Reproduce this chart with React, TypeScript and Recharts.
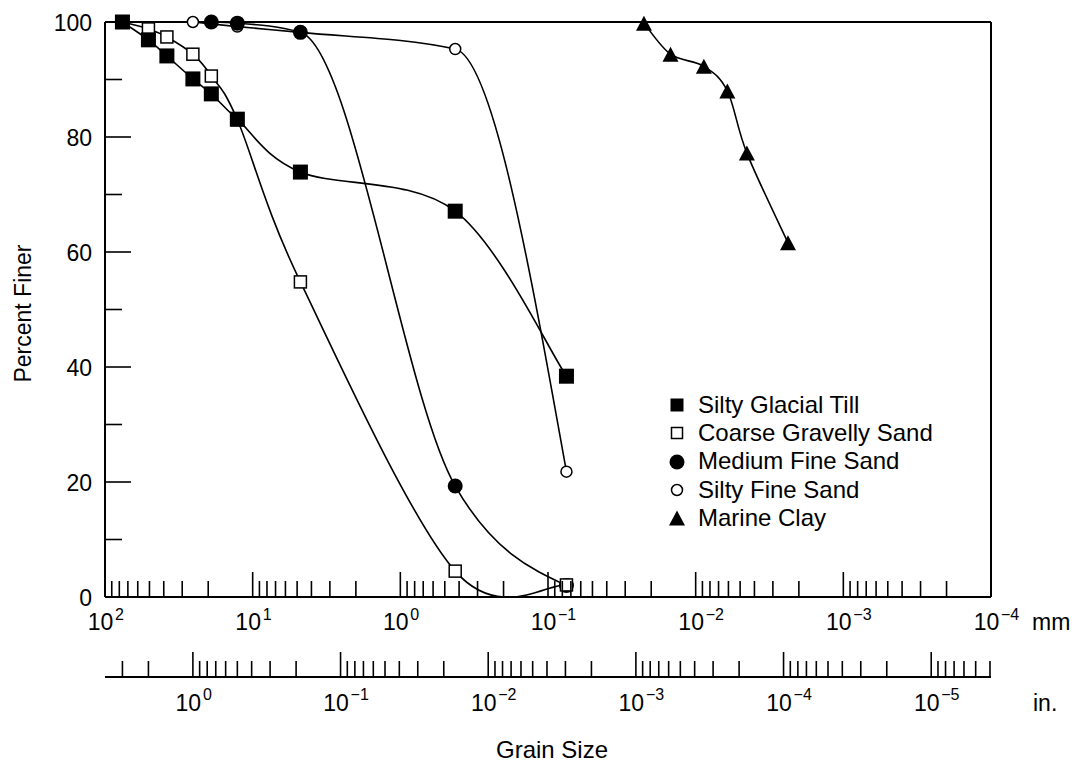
import React from "react";
import { LineChart, Line, XAxis, YAxis, ReferenceLine, Legend, Label } from "recharts";

const FONT = '"Liberation Sans", Arial, Helvetica, sans-serif';

// sieve openings in mm (3 in ... #200)
const SIEVE_MM = [76.2, 50.8, 38.1, 25.4, 19.05, 12.7, 4.75, 0.425, 0.075];
const GLACIAL_TILL_PCT = [100, 96.9, 94.1, 90.1, 87.5, 83.1, 73.9, 67.1, 38.4];
const GRAVELLY_SAND_PCT = [100, 98.8, 97.4, 94.4, 90.6, 83.0, 54.8, 4.5, 2.1];
const MEDIUM_SAND_MM = [19.05, 12.7, 4.75, 0.425, 0.075];
const MEDIUM_SAND_PCT = [100, 99.8, 98.2, 19.3, 2.0];
const SILTY_SAND_MM = [25.4, 12.7, 4.75, 0.425, 0.075];
const SILTY_SAND_PCT = [100, 99.2, 98.2, 95.3, 21.8];
// hydrometer readings
const CLAY_MM = [0.0224, 0.0148, 0.0088, 0.0061, 0.0045, 0.00237];
const CLAY_PCT = [99.8, 94.4, 92.3, 88.0, 77.2, 61.6];

const MM_DOMAIN = [1e-4, 1e2];
const MM_PER_IN = 25.4;
const MM_DECADES = [-4, -3, -2, -1, 0, 1, 2];
const IN_DECADES = [-6, -5, -4, -3, -2, -1, 0];
const MINOR_STEPS = [2, 3, 4, 5, 6, 7, 8, 9];
const Y_TICKS = [0, 10, 20, 30, 40, 50, 60, 70, 80, 90, 100];

type Kind = "fsq" | "osq" | "fci" | "oci" | "tri";

// uniform Catmull-Rom curve, passes through every point
function catmullRom(context: any) {
  let pts: number[][] = [];
  return {
    areaStart() {},
    areaEnd() {},
    lineStart() {
      pts = [];
    },
    point(x: number, y: number) {
      pts.push([+x, +y]);
    },
    lineEnd() {
      const n = pts.length;
      if (!n) return;
      context.moveTo(pts[0][0], pts[0][1]);
      if (n === 2) {
        context.lineTo(pts[1][0], pts[1][1]);
        return;
      }
      for (let i = 0; i < n - 1; i++) {
        const p0 = pts[Math.max(0, i - 1)];
        const p1 = pts[i];
        const p2 = pts[i + 1];
        const p3 = pts[Math.min(n - 1, i + 2)];
        context.bezierCurveTo(
          p1[0] + (p2[0] - p0[0]) / 6,
          p1[1] + (p2[1] - p0[1]) / 6,
          p2[0] - (p3[0] - p1[0]) / 6,
          p2[1] - (p3[1] - p1[1]) / 6,
          p2[0],
          p2[1]
        );
      }
    },
  };
}

const SERIES: { name: string; mm: number[]; pct: number[]; kind: Kind; curve: any }[] = [
  { name: "Silty Glacial Till", mm: SIEVE_MM, pct: GLACIAL_TILL_PCT, kind: "fsq", curve: catmullRom },
  { name: "Coarse Gravelly Sand", mm: SIEVE_MM, pct: GRAVELLY_SAND_PCT, kind: "osq", curve: catmullRom },
  { name: "Medium Fine Sand", mm: MEDIUM_SAND_MM, pct: MEDIUM_SAND_PCT, kind: "fci", curve: "monotone" },
  { name: "Silty Fine Sand", mm: SILTY_SAND_MM, pct: SILTY_SAND_PCT, kind: "oci", curve: "monotone" },
  { name: "Marine Clay", mm: CLAY_MM, pct: CLAY_PCT, kind: "tri", curve: catmullRom },
];
// drawing order so filled markers sit over the hollow ones
const DRAW_ORDER = [3, 2, 1, 0, 4];

const rowsOf = (mm: number[], pct: number[]) => mm.map((v, i) => ({ mm: v, pct: pct[i] }));
const CHART_DATA = rowsOf(SIEVE_MM, GLACIAL_TILL_PCT);

function logTicks(decades: number[], lo: number, hi: number) {
  const out: number[] = [];
  decades.forEach((d) => {
    const base = Math.pow(10, d);
    if (base >= lo && base <= hi) out.push(base);
    MINOR_STEPS.forEach((m) => {
      const v = m * base;
      if (v >= lo * 0.9999 && v <= hi * 1.0001) out.push(v);
    });
  });
  return out;
}

const IN_DOMAIN = [MM_DOMAIN[0] / MM_PER_IN, MM_DOMAIN[1] / MM_PER_IN];
const MM_TICKS = logTicks(MM_DECADES, MM_DOMAIN[0], MM_DOMAIN[1]);
const IN_TICKS = logTicks(IN_DECADES, IN_DOMAIN[0], IN_DOMAIN[1]);

function Marker({ cx, cy, kind, small }: { cx: number; cy: number; kind: Kind; small?: boolean }) {
  if (kind === "fsq") {
    const s = small ? 13 : 15;
    return <rect x={cx - s / 2} y={cy - s / 2} width={s} height={s} fill="#000" />;
  }
  if (kind === "osq") {
    const s = small ? 11 : 12;
    return <rect x={cx - s / 2} y={cy - s / 2} width={s} height={s} fill="#fff" stroke="#000" strokeWidth={1.5} />;
  }
  if (kind === "fci") return <circle cx={cx} cy={cy} r={7.5} fill="#000" />;
  if (kind === "oci") return <circle cx={cx} cy={cy} r={5.5} fill="#fff" stroke="#000" strokeWidth={1.5} />;
  return (
    <polygon
      points={`${cx},${cy - 7.5} ${cx + 8},${cy + 7.5} ${cx - 8},${cy + 7.5}`}
      fill="#000"
    />
  );
}

function isDecade(v: number) {
  const l = Math.log10(v);
  return Math.abs(l - Math.round(l)) < 1e-6;
}

function LogTick(props: any) {
  const { x, y, payload, gap } = props;
  const v = payload.value;
  const major = isDecade(v);
  const e = Math.round(Math.log10(v));
  return (
    <g>
      <line x1={x} x2={x} y1={y} y2={y - (major ? 25 : 16)} stroke="#000" strokeWidth={1.6} />
      {major && (
        <>
          <text x={x - 4.5} y={y + gap} textAnchor="middle" fontSize={23} fontFamily={FONT} fill="#000">
            10
          </text>
          <text x={x + 10} y={y + gap - 10.5} textAnchor="start" fontSize={16} fontFamily={FONT} fill="#000">
            {e < 0 ? `\u2212${-e}` : `${e}`}
          </text>
        </>
      )}
    </g>
  );
}

function LeftTick(props: any) {
  const { x, y, payload } = props;
  const major = payload.value % 20 === 0;
  return (
    <g>
      <line x1={x} x2={x + (major ? 26 : 17)} y1={y} y2={y} stroke="#000" strokeWidth={1.6} />
      {major && (
        <text x={x - 13} y={y + 8.5} textAnchor="end" fontSize={23} fontFamily={FONT} fill="#000">
          {payload.value}
        </text>
      )}
    </g>
  );
}

function RightTick(props: any) {
  const { x, y, payload } = props;
  const major = payload.value % 20 === 0;
  return <line x1={x} x2={x - (major ? 26 : 17)} y1={y} y2={y} stroke="#000" strokeWidth={1.6} />;
}

function LegendBox() {
  return (
    <div style={{ fontFamily: FONT, fontSize: 24, color: "#000" }}>
      {SERIES.map((s) => (
        <div key={s.name} style={{ display: "flex", alignItems: "center", height: 28.3, lineHeight: "28.3px" }}>
          <svg width={18} height={18} style={{ marginRight: 12, flex: "none" }}>
            <Marker cx={9} cy={9} kind={s.kind} small />
          </svg>
          <span style={{ whiteSpace: "nowrap" }}>{s.name}</span>
        </div>
      ))}
    </div>
  );
}

export default function App() {
  return (
    <div style={{ width: 1068, height: 755, fontFamily: FONT }}>
      <LineChart width={1068} height={755} data={CHART_DATA} margin={{ top: 14, right: 75, bottom: 0, left: 0 }}>
        <XAxis
          xAxisId={0}
          dataKey="mm"
          type="number"
          scale="log"
          domain={MM_DOMAIN}
          allowDataOverflow
          reversed
          ticks={MM_TICKS}
          interval={0}
          height={80}
          tickSize={0}
          tickMargin={0}
          tickLine={false}
          axisLine={{ stroke: "#000", strokeWidth: 2 }}
          tick={<LogTick gap={33} />}
          label={
            <Label
              content={(p: any) => {
                const vb = p.viewBox || {};
                return (
                  <text x={vb.x + vb.width + 41} y={vb.y + 33} fontSize={23} fontFamily={FONT} fill="#000">
                    mm
                  </text>
                );
              }}
            />
          }
        />
        <XAxis
          xAxisId={1}
          dataKey="mm"
          type="number"
          scale="log"
          domain={IN_DOMAIN}
          allowDataOverflow
          reversed
          ticks={IN_TICKS}
          interval={0}
          height={86}
          tickSize={0}
          tickMargin={0}
          tickLine={false}
          axisLine={{ stroke: "#000", strokeWidth: 2 }}
          tick={<LogTick gap={33.5} />}
          label={
            <Label
              content={(p: any) => {
                const vb = p.viewBox || {};
                return (
                  <g>
                    <text x={vb.x + vb.width + 42} y={vb.y + 33.5} fontSize={23} fontFamily={FONT} fill="#000">
                      in.
                    </text>
                    <text
                      x={vb.x + vb.width / 2 + 4}
                      y={vb.y + 81}
                      textAnchor="middle"
                      fontSize={24}
                      fontFamily={FONT}
                      fill="#000"
                    >
                      Grain Size
                    </text>
                  </g>
                );
              }}
            />
          }
        />
        <YAxis
          yAxisId={0}
          type="number"
          domain={[0, 100]}
          ticks={Y_TICKS}
          interval={0}
          width={97}
          tickSize={0}
          tickMargin={0}
          tickLine={false}
          axisLine={{ stroke: "#000", strokeWidth: 2 }}
          tick={<LeftTick />}
          label={
            <Label
              content={(p: any) => {
                const vb = p.viewBox || {};
                const cy = vb.y + vb.height / 2 + 4;
                return (
                  <text
                    x={15}
                    y={cy}
                    transform={`rotate(-90 15 ${cy})`}
                    textAnchor="middle"
                    dominantBaseline="central"
                    fontSize={23}
                    fontFamily={FONT}
                    fill="#000"
                  >
                    Percent Finer
                  </text>
                );
              }}
            />
          }
        />
        <YAxis
          yAxisId={1}
          orientation="right"
          type="number"
          domain={[0, 100]}
          ticks={Y_TICKS}
          interval={0}
          width={10}
          tickSize={0}
          tickMargin={0}
          tickLine={false}
          axisLine={{ stroke: "#000", strokeWidth: 2 }}
          tick={<RightTick />}
        />
        <ReferenceLine y={100} xAxisId={0} yAxisId={0} stroke="#000" strokeWidth={2} />
        {DRAW_ORDER.map((idx) => {
          const s = SERIES[idx];
          return (
            <Line
              key={s.name}
              name={s.name}
              data={rowsOf(s.mm, s.pct)}
              dataKey="pct"
              xAxisId={0}
              yAxisId={0}
              type={s.curve}
              stroke="#000"
              strokeWidth={1.6}
              isAnimationActive={false}
              activeDot={false}
              dot={(p: any) => <Marker key={`${s.kind}-${p.index}`} cx={p.cx} cy={p.cy} kind={s.kind} />}
            />
          );
        })}
        <Legend
          layout="vertical"
          align="center"
          verticalAlign="middle"
          content={() => <LegendBox />}
          wrapperStyle={{ position: "absolute", left: 660, top: 382.85, width: 320, height: 142 }}
        />
      </LineChart>
    </div>
  );
}
